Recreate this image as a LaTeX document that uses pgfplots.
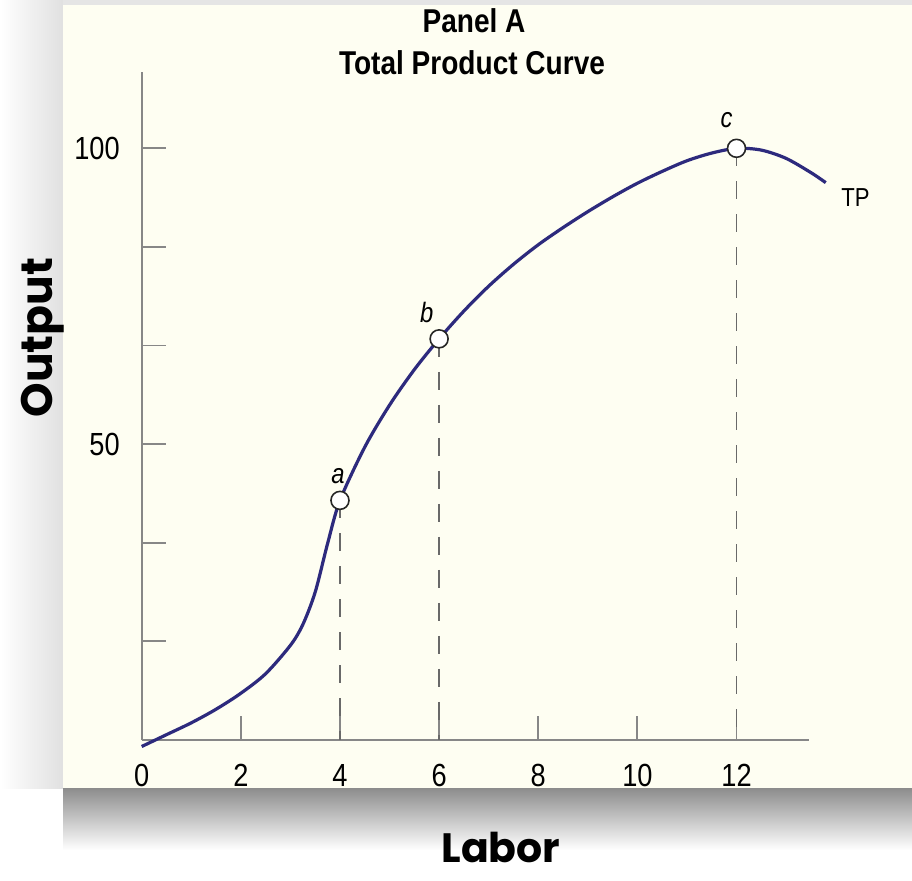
\documentclass[border=0pt]{standalone}
\usepackage{fontspec}
\setmainfont{Liberation Sans}
\newfontfamily\condfont[FakeStretch=0.85]{Liberation Sans}
\newfontfamily\gothic{Poppins}
\usepackage{pgfplots}
\pgfplotsset{compat=1.18}
\definecolor{cream}{RGB}{254,254,242}
\definecolor{tpblue}{RGB}{45,42,125}
\definecolor{axgray}{RGB}{135,135,135}
\definecolor{dashgray}{RGB}{105,105,105}

\begin{document}
\begin{tikzpicture}
\useasboundingbox (0,0) rectangle (456pt,440pt);
\fill[white] (0,0) rectangle (456pt,440pt);
\shade[left color=white, right color=black!12] (0,46pt) rectangle (31.5pt,440pt);
\fill[black!10] (31.5pt,437.5pt) rectangle (456pt,440pt);
\shade[top color=black!45, bottom color=white] (31.5pt,15pt) rectangle (456pt,46pt);
\fill[cream] (31.5pt,46pt) rectangle (456pt,437.5pt);

\begin{axis}[
  at={(70.85pt,70pt)}, anchor=south west,
  scale only axis, width=333.6pt, height=334pt,
  xmin=0, xmax=13.46, ymin=0, ymax=112.9,
  clip=false,
  axis lines=left,
  axis line style={-, axgray, line width=1pt},
  tick align=inside,
  major tick length=12pt,
  tick style={axgray, line width=0.9pt},
  xtick={0,2,4,6,8,10,12},
  xticklabels={0,2,4,6,8,10,12},
  ytick={16.667,33.333,50,66.667,83.333,100},
  yticklabels={{},{},50,{},{},100},
  ticklabel style={font=\condfont\fontsize{16}{18}\selectfont, inner sep=0pt, text=black},
  xticklabel style={anchor=base, yshift=-23.5pt},
  yticklabel style={anchor=east, xshift=-10.8pt},
]
% dashed guide lines
\addplot[dashgray, line width=0.7pt, dash pattern=on 9pt off 7.5pt] coordinates {(4,40.5) (4,0)};
\addplot[dashgray, line width=0.7pt, dash pattern=on 9pt off 7.5pt] coordinates {(6,67.8) (6,0)};
\addplot[dashgray, line width=0.7pt, dash pattern=on 9pt off 7.5pt] coordinates {(12,100) (12,0)};
% total product curve
\addplot[tpblue, line width=1.6pt, smooth, tension=0.5] coordinates {
 (0,-1.1) (0.5,0.9) (1,2.9) (1.5,5.2) (2,7.9) (2.5,11.2) (3,16.0)
 (3.25,19.5) (3.5,25.0) (3.75,33.2) (4,40.5) (4.5,49.5) (5,56.6)
 (5.5,62.6) (6,67.8) (6.5,72.5) (7,76.7) (7.5,80.4) (8,83.7)
 (8.5,86.6) (9,89.3) (9.5,91.8) (10,94.1) (10.5,96.1) (11,97.9)
 (11.5,99.2) (12,100) (12.5,99.7) (13,98.3) (13.5,95.9) (13.8,94.2)
};
% points a, b, c
\addplot[only marks, mark=*, mark size=4.5pt,
  mark options={fill=white, draw=black!85, line width=0.8pt}]
  coordinates {(4,40.5) (6,67.8) (12,100)};
\node[font=\condfont\itshape\fontsize{14}{16}\selectfont] at (axis cs:3.96,44.6) {a};
\node[font=\condfont\itshape\fontsize{14}{16}\selectfont] at (axis cs:5.75,72.3) {b};
\node[font=\condfont\itshape\fontsize{14}{16}\selectfont] at (axis cs:11.8,104.8) {c};
\node[font=\condfont\fontsize{13}{15}\selectfont] at (axis cs:14.4,91.6) {TP};
\end{axis}

% title
\node[anchor=base, font=\condfont\bfseries\fontsize{16.5}{18}\selectfont] at (237pt,423.5pt) {Panel A};
\node[anchor=base, font=\condfont\bfseries\fontsize{16.5}{18}\selectfont] at (236pt,402.5pt) {Total Product Curve};
% axis labels
\node[anchor=base, inner sep=0pt, font=\gothic\bfseries\fontsize{20.5}{24}\selectfont] at (250.5pt,9pt) {Labor};
\node[anchor=base, rotate=90, font=\gothic\bfseries\fontsize{22}{24}\selectfont] at (26.5pt,271.25pt) {Output};
\end{tikzpicture}
\end{document}
